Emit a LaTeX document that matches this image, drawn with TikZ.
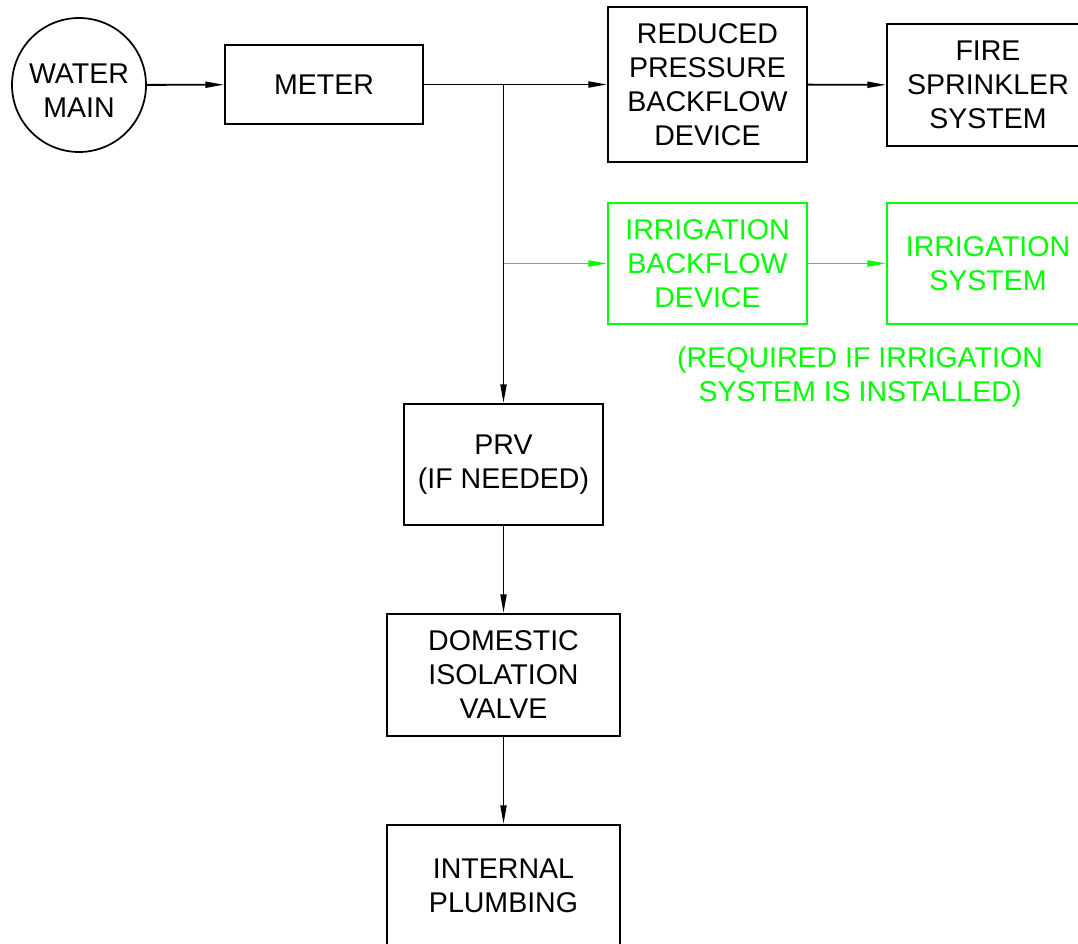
\documentclass[tikz,border=0pt]{standalone}
\usepackage{fontspec}
\setmainfont{Liberation Sans}
\usepackage{xcolor}
\usepackage{tikz}
\usetikzlibrary{arrows.meta,positioning}

\definecolor{irrgreen}{RGB}{0,255,0}

\tikzset{
  box/.style 2 args={draw,line width=1.3pt,align=center,inner sep=0pt,
    minimum width=#1*0.75pt,minimum height=#2*0.75pt},
  pipe/.style={line width=1.4pt,-{Triangle[length=14pt,width=4.5pt]}},
}

\begin{document}
\begin{tikzpicture}[x=0.75pt,y=-0.75pt,font=\fontsize{21.4}{25.5}\selectfont]
\useasboundingbox (0,0) rectangle (1078,944);
\clip (0,0) rectangle (1078,944);
\node[draw,circle,line width=1.3pt,minimum size=134*0.75pt,inner sep=0pt,
  label={[align=center,yshift=-4pt]center:WATER\\MAIN}] (main) at (79,85) {};
\node[box={198}{79}] (meter) at (324,84.5) {METER};
\node[box={199}{155}] (rpb) at (707.5,84.5) {REDUCED\\PRESSURE\\BACKFLOW\\DEVICE};
\node[box={202}{122}] (fire) at (988,85) {FIRE\\SPRINKLER\\SYSTEM};
\node[box={199}{121},irrgreen,text=irrgreen] (irb) at (707.5,263.5) {IRRIGATION\\BACKFLOW\\DEVICE};
\node[box={202}{121},irrgreen,text=irrgreen] (irs) at (988,263.5) {IRRIGATION\\SYSTEM};
\node[align=center,text=irrgreen] (note) at (860,377) {(REQUIRED IF IRRIGATION\\SYSTEM IS INSTALLED)};
\node[box={199}{121}] (prv) at (503.5,464.5) {PRV\\(IF NEEDED)};
\node[box={233}{122}] (div) at (503.5,675) {DOMESTIC\\ISOLATION\\VALVE};
\node[box={233}{122}] (plumb) at (503.5,886) {INTERNAL\\PLUMBING};
\coordinate (tee) at (503.5,84.5);
\coordinate (tee2) at (503.5,263.5);
% main line
\draw[pipe] (main) -- (meter);
\draw[pipe] (meter) -- (rpb);
\draw[pipe] (rpb) -- (fire);
\draw[pipe] (tee) -- (prv);
\draw[pipe] (prv) -- (div);
\draw[pipe] (div) -- (plumb);
% irrigation branch
\draw[pipe,irrgreen] (tee2) -- (irb);
\draw[pipe,irrgreen] (irb) -- (irs);
\end{tikzpicture}
\end{document}
